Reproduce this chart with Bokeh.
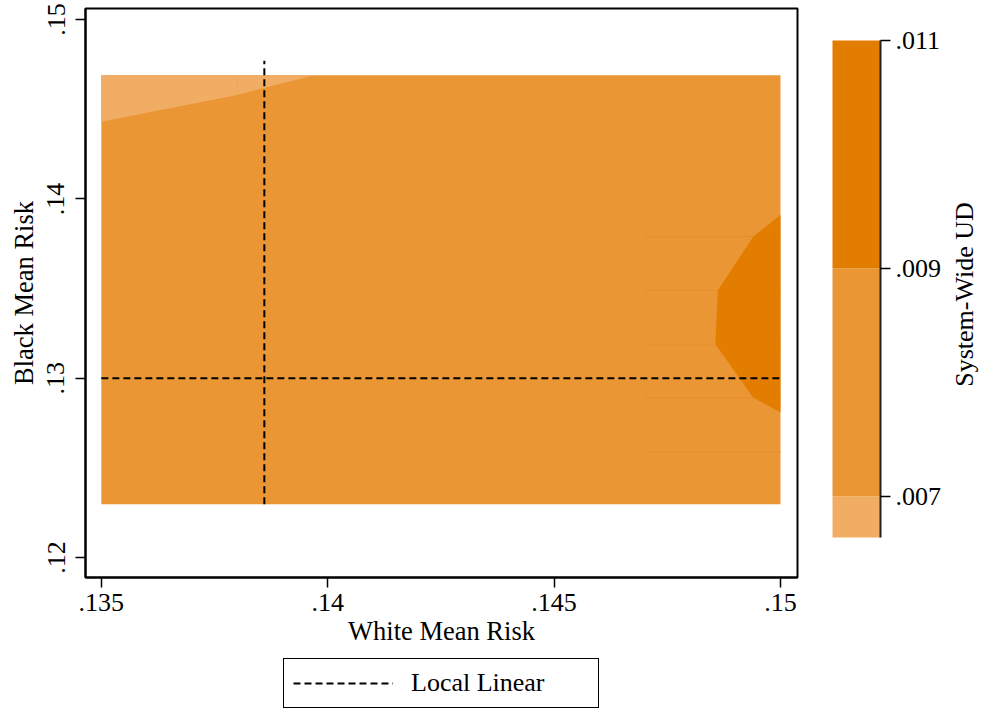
import math
from bokeh.plotting import figure
from bokeh.models import (Range1d, FixedTicker, CustomJSTickFormatter, Legend,
                          LegendItem)
from bokeh.core.properties import value
from bokeh.layouts import column, row
from bokeh.embed import file_html
from bokeh.resources import INLINE

FONT = "Liberation Serif"
FS = "26px"
FS_T = "26.5px"

# ---------------- data ----------------
# extent of the estimated surface
white_min, white_max = 0.135, 0.150
black_min, black_max = 0.12296, 0.1469

# contour band levels of System-Wide UD and their colours
levels = [0.00664, 0.007, 0.009, 0.011]
band_colors = ["#f1ad63", "#ea9634", "#e27d00"]

# boundary of the < .007 band (upper left corner)
low_band_x = [0.135, 0.135, 0.138, 0.1397]
low_band_y = [0.1469, 0.1443, 0.1458, 0.1469]

# boundary of the > .009 band (right edge)
high_band_x = [0.150, 0.1494, 0.14862, 0.14856, 0.1494, 0.150]
high_band_y = [0.1391, 0.1379, 0.1349, 0.1319, 0.1289, 0.1281]

# faint triangulation seams of the surface
seam_y = [0.1379, 0.1349, 0.1319, 0.1289, 0.1259]
seam_x0, seam_x1 = 0.147, 0.150
seam_low_x = 0.138

# local-linear estimate
ll_white = 0.1386
ll_black = 0.130
ll_top = 0.1477

x_ticks = [0.135, 0.14, 0.145, 0.15]
y_ticks = [0.12, 0.13, 0.14, 0.15]
cb_ticks = [0.007, 0.009, 0.011]
cb_labels = [f"{t:.3f}".lstrip("0") for t in cb_ticks]

x_rng = (0.13465, 0.150376)
y_rng = (0.11888, 0.15062)

TOP, BOTTOM = 8, 81          # borders shared by the plot row
ROW_H = 658

# ---------------- main panel ----------------
p = figure(width=799, height=ROW_H,
           x_range=Range1d(*x_rng), y_range=Range1d(*y_rng),
           output_backend="svg", toolbar_location=None,
           min_border_left=85, min_border_right=2,
           min_border_top=TOP, min_border_bottom=BOTTOM)
p.background_fill_color = "white"
p.border_fill_color = "white"
p.xgrid.visible = False
p.ygrid.visible = False
p.outline_line_color = "black"
p.outline_line_width = 2

p.quad(left=[white_min], right=[white_max], bottom=[black_min], top=[black_max],
       fill_color=band_colors[1], line_color=None)
p.patch(low_band_x, low_band_y, fill_color=band_colors[0], line_color=None)
p.segment(x0=[seam_low_x], y0=[low_band_y[2]], x1=[seam_low_x], y1=[black_max],
          line_color="#eda85d", line_width=1)
p.segment(x0=[seam_x0] * len(seam_y), y0=seam_y, x1=[seam_x1] * len(seam_y), y1=seam_y,
          line_color="#e7902e", line_width=1)
p.segment(x0=[seam_x0], y0=[min(seam_y)], x1=[seam_x0], y1=[max(seam_y)],
          line_color="#e99431", line_width=1)
p.patch(high_band_x, high_band_y, fill_color=band_colors[2], line_color=None)

p.line([ll_white, ll_white], [black_min, ll_top], line_color="black",
       line_width=2, line_dash="7 4")
p.line([white_min, white_max], [ll_black, ll_black], line_color="black",
       line_width=2, line_dash="7 4")

for ax in (p.xaxis[0], p.yaxis[0]):
    ax.major_label_text_font = FONT
    ax.major_label_text_font_size = FS
    ax.major_label_text_color = "black"
    ax.axis_label_text_font = FONT
    ax.axis_label_text_font_size = FS_T
    ax.axis_label_text_font_style = "normal"
    ax.axis_label_text_color = "black"
    ax.major_tick_out = 10
    ax.major_tick_in = 0
    ax.major_tick_line_width = 1.5
    ax.minor_tick_line_color = None
    ax.axis_line_width = 2

p.xaxis.ticker = FixedTicker(ticks=x_ticks)
p.xaxis.formatter = CustomJSTickFormatter(
    code="return tick.toFixed(3).replace(/^0/, '').replace(/0+$/, '');")
p.xaxis.axis_label = "White Mean Risk"
p.xaxis.major_label_standoff = 6
p.xaxis.axis_label_standoff = 2

p.yaxis.ticker = FixedTicker(ticks=y_ticks)
p.yaxis.formatter = CustomJSTickFormatter(
    code="return tick.toFixed(2).replace(/^0/, '');")
p.yaxis.axis_label = "Black Mean Risk"
p.yaxis.major_label_orientation = "vertical"
p.yaxis.major_label_standoff = 11
p.yaxis.axis_label_standoff = 6

# ---------------- colour bar panel (x in page pixels, y in UD units) ----------------
CB_W = 981 - 799
frame_px = ROW_H - TOP - BOTTOM               # 569 px tall frame (y 8..577)
bar_top_px, bar_bot_px = 40, 537              # where .011 and the lowest level sit
per_px = (levels[-1] - levels[0]) / (bar_bot_px - bar_top_px)
cb_y0 = levels[0] - (TOP + frame_px - bar_bot_px) * per_px
cb_y1 = levels[-1] + (bar_top_px - TOP) * per_px

cf = figure(width=CB_W, height=ROW_H,
            x_range=Range1d(799, 981), y_range=Range1d(cb_y0, cb_y1),
            output_backend="svg", toolbar_location=None,
            x_axis_location=None, y_axis_location=None,
            min_border_left=0, min_border_right=0,
            min_border_top=TOP, min_border_bottom=BOTTOM)
cf.xgrid.visible = False
cf.ygrid.visible = False
cf.outline_line_color = None
cf.background_fill_color = "white"
cf.border_fill_color = "white"

BAR_L, BAR_R = 832, 880
cf.quad(left=BAR_L, right=BAR_R, bottom=levels[:-1], top=levels[1:],
        fill_color=band_colors, line_color=None)
cf.segment(x0=[BAR_R], y0=[levels[0]], x1=[BAR_R], y1=[levels[-1]],
           line_color="#222222", line_width=2)
cf.segment(x0=[BAR_R] * len(cb_ticks), y0=cb_ticks, x1=[BAR_R + 10] * len(cb_ticks),
           y1=cb_ticks, line_color="black", line_width=1.5)
cf.text(x=[BAR_R + 15] * len(cb_ticks), y=cb_ticks, text=cb_labels,
        text_font=value(FONT), text_font_size=value(FS), text_color="black",
        text_align="left", text_baseline="middle")
cf.text(x=[964], y=[(cb_y0 + cb_y1) / 2 - 1.5 * per_px], text=["System-Wide UD"],
        angle=math.pi / 2, text_font=value(FONT), text_font_size=value(FS),
        text_color="black", text_align="center", text_baseline="alphabetic")

# ---------------- legend strip below ----------------
lg = figure(width=981, height=713 - ROW_H,
            x_range=Range1d(*x_rng), y_range=Range1d(0, 1),
            output_backend="svg", toolbar_location=None,
            x_axis_location=None, y_axis_location=None,
            min_border_left=85, min_border_right=184,
            min_border_top=0, min_border_bottom=0)
lg.xgrid.visible = False
lg.ygrid.visible = False
lg.outline_line_color = None
lg.background_fill_color = "white"
lg.border_fill_color = "white"
# line kept outside the visible range: it only feeds the legend sample
r_key = lg.line([white_min, white_max], [5, 5], line_color="black",
                line_width=2, line_dash="7 4")

legend = Legend(items=[LegendItem(label="Local Linear", renderers=[r_key])],
                location=(198, 5), orientation="horizontal",
                label_text_font=FONT, label_text_font_size=FS,
                label_text_color="black",
                glyph_width=100, glyph_height=30, label_height=30,
                label_standoff=18, label_width=178, padding=9, margin=0,
                border_line_color="black", border_line_width=1.5,
                border_line_alpha=1.0,
                background_fill_color="white", background_fill_alpha=1.0)
lg.add_layout(legend, "center")

layout = column(row(p, cf, spacing=0), lg, spacing=0)
open("out.html", "w").write(file_html(layout, INLINE))
